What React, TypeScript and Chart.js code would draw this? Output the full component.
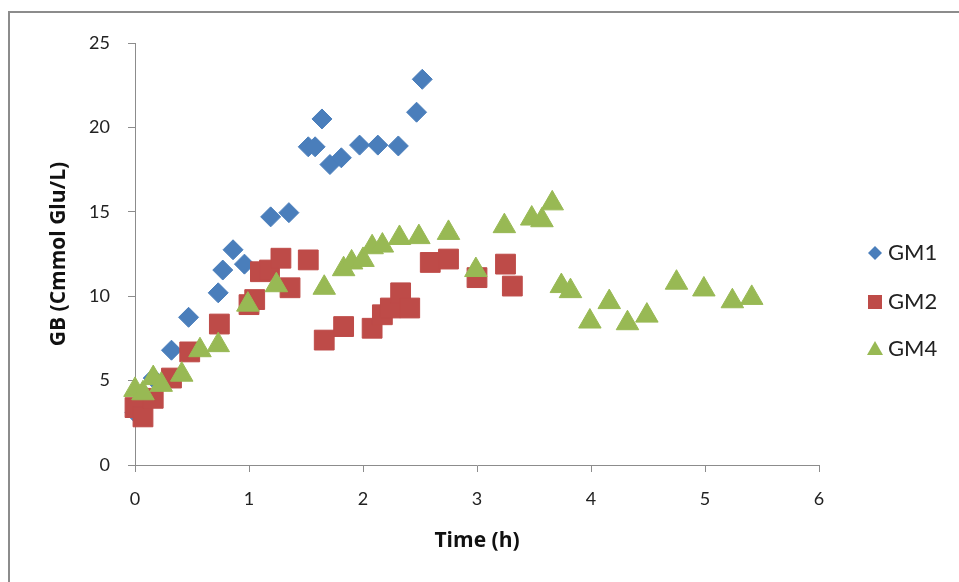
import React, { useEffect, useRef } from "react";
import { Chart, registerables } from "chart.js";

Chart.register(...registerables);

const seriesNames = ["GM1", "GM2", "GM4"];
const seriesColors = ["#4A7EBB", "#BE4B48", "#98B954"];

const gm1X = [0, 0.16, 0.32, 0.47, 0.73, 0.77, 0.86, 0.96, 1.19, 1.35, 1.52, 1.58, 1.64, 1.71, 1.81, 1.97, 2.13, 2.31, 2.47, 2.52];
const gm1Y = [3.1, 5.15, 6.8, 8.75, 10.2, 11.55, 12.75, 11.9, 14.7, 14.95, 18.85, 18.85, 20.5, 17.8, 18.2, 18.95, 18.95, 18.9, 20.9, 22.85];

const gm2X = [0, 0.07, 0.16, 0.32, 0.48, 0.74, 1.0, 1.05, 1.1, 1.18, 1.28, 1.36, 1.52, 1.66, 1.83, 2.08, 2.17, 2.24, 2.33, 2.41, 2.59, 2.75, 3.0, 3.25, 3.31];
const gm2Y = [3.4, 2.85, 3.95, 5.15, 6.7, 8.35, 9.5, 9.8, 11.45, 11.55, 12.25, 10.5, 12.15, 7.4, 8.2, 8.1, 8.9, 9.3, 10.2, 9.3, 12.0, 12.2, 11.1, 11.9, 10.6];

const gm4X = [0, 0.07, 0.16, 0.23, 0.41, 0.57, 0.73, 0.99, 1.24, 1.66, 1.83, 1.9, 2.0, 2.08, 2.17, 2.32, 2.49, 2.75, 2.99, 3.24, 3.48, 3.57, 3.66, 3.74, 3.82, 3.99, 4.16, 4.32, 4.49, 4.75, 4.99, 5.24, 5.41];
const gm4Y = [4.45, 4.25, 5.15, 4.75, 5.35, 6.8, 7.1, 9.5, 10.65, 10.5, 11.6, 12.0, 12.15, 12.9, 13.0, 13.45, 13.5, 13.75, 11.55, 14.15, 14.6, 14.5, 15.5, 10.6, 10.3, 8.5, 9.65, 8.4, 8.85, 10.8, 10.4, 9.7, 9.9];

const xTicks = [0, 1, 2, 3, 4, 5, 6];
const yTicks = [0, 5, 10, 15, 20, 25];

const toPoints = (xs: number[], ys: number[]) => xs.map((x, i) => ({ x, y: ys[i] }));

const legendPlugin = {
  id: "customLegend",
  afterDraw(chart: any) {
    const ctx = chart.ctx;
    const mx = 875;
    const ys = [253, 302, 349];
    ctx.save();
    ctx.fillStyle = seriesColors[0];
    ctx.beginPath();
    ctx.moveTo(mx, ys[0] - 7);
    ctx.lineTo(mx + 7, ys[0]);
    ctx.lineTo(mx, ys[0] + 7);
    ctx.lineTo(mx - 7, ys[0]);
    ctx.closePath();
    ctx.fill();
    ctx.fillStyle = seriesColors[1];
    ctx.fillRect(mx - 7, ys[1] - 7, 14, 14);
    ctx.fillStyle = seriesColors[2];
    ctx.beginPath();
    ctx.moveTo(mx, ys[2] - 8);
    ctx.lineTo(mx + 8, ys[2] + 6);
    ctx.lineTo(mx - 8, ys[2] + 6);
    ctx.closePath();
    ctx.fill();
    ctx.fillStyle = "#222";
    ctx.font = "22px Lato";
    ctx.textBaseline = "middle";
    ctx.textAlign = "left";
    seriesNames.forEach((n, i) => ctx.fillText(n, 888, ys[i]));
    ctx.restore();
  },
};

export default function App() {
  const ref = useRef<HTMLCanvasElement>(null);
  useEffect(() => {
    if (!ref.current) return;
    const chart = new Chart(ref.current, {
      type: "scatter",
      data: {
        datasets: [
          {
            label: seriesNames[0],
            data: toPoints(gm1X, gm1Y),
            pointStyle: "rectRot",
            pointRadius: 10,
            backgroundColor: seriesColors[0],
            borderColor: seriesColors[0],
            borderWidth: 1,
            order: 3,
            clip: false,
          },
          {
            label: seriesNames[1],
            data: toPoints(gm2X, gm2Y),
            pointStyle: "rect",
            pointRadius: 14,
            backgroundColor: seriesColors[1],
            borderColor: seriesColors[1],
            borderWidth: 1,
            order: 2,
            clip: false,
          },
          {
            label: seriesNames[2],
            data: toPoints(gm4X, gm4Y),
            pointStyle: "triangle",
            pointRadius: 13,
            backgroundColor: seriesColors[2],
            borderColor: seriesColors[2],
            borderWidth: 1,
            order: 1,
            clip: false,
          },
        ],
      },
      options: {
        animation: false,
        responsive: false,
        layout: { padding: { left: 42, right: 140, top: 43, bottom: 24 } },
        plugins: { legend: { display: false }, tooltip: { enabled: false } },
        scales: {
          x: {
            type: "linear",
            min: 0,
            max: 6,
            afterBuildTicks: (s: any) => {
              s.ticks = xTicks.map((v) => ({ value: v }));
            },
            afterFit: (s: any) => {
              s.height = 93;
            },
            grid: { drawOnChartArea: false, drawTicks: true, tickLength: 7, color: "#8C8C8C" },
            border: { display: true, color: "#8C8C8C", width: 1 },
            ticks: { color: "#222", font: { family: "Lato", size: 18 }, padding: 16 },
            title: {
              display: true,
              text: "Time (h)",
              color: "#111",
              font: { family: "Open Sans", size: 21, weight: "bold" },
            },
          },
          y: {
            type: "linear",
            min: 0,
            max: 25,
            afterBuildTicks: (s: any) => {
              s.ticks = yTicks.map((v) => ({ value: v }));
            },
            afterFit: (s: any) => {
              s.width = 93;
            },
            grid: { drawOnChartArea: false, drawTicks: true, tickLength: 7, color: "#8C8C8C" },
            border: { display: true, color: "#8C8C8C", width: 1 },
            ticks: { color: "#222", font: { family: "Lato", size: 18 }, padding: 18 },
            title: {
              display: true,
              text: "GB (Cmmol Glu/L)",
              color: "#111",
              font: { family: "Open Sans", size: 21, weight: "bold" },
            },
          },
        },
      },
      plugins: [legendPlugin],
    } as any);
    return () => chart.destroy();
  }, []);
  return (
    <div style={{ position: "absolute", left: 0, top: 0, width: 959, height: 582, overflow: "hidden", background: "#fff" }}>
      <div
        style={{
          position: "absolute",
          left: 8,
          top: 11,
          width: 970,
          height: 600,
          border: "2px solid #8C8C8C",
          boxSizing: "border-box",
        }}
      />
      <canvas ref={ref} width={959} height={582} style={{ position: "absolute", left: 0, top: 0, width: 959, height: 582 }} />
    </div>
  );
}
